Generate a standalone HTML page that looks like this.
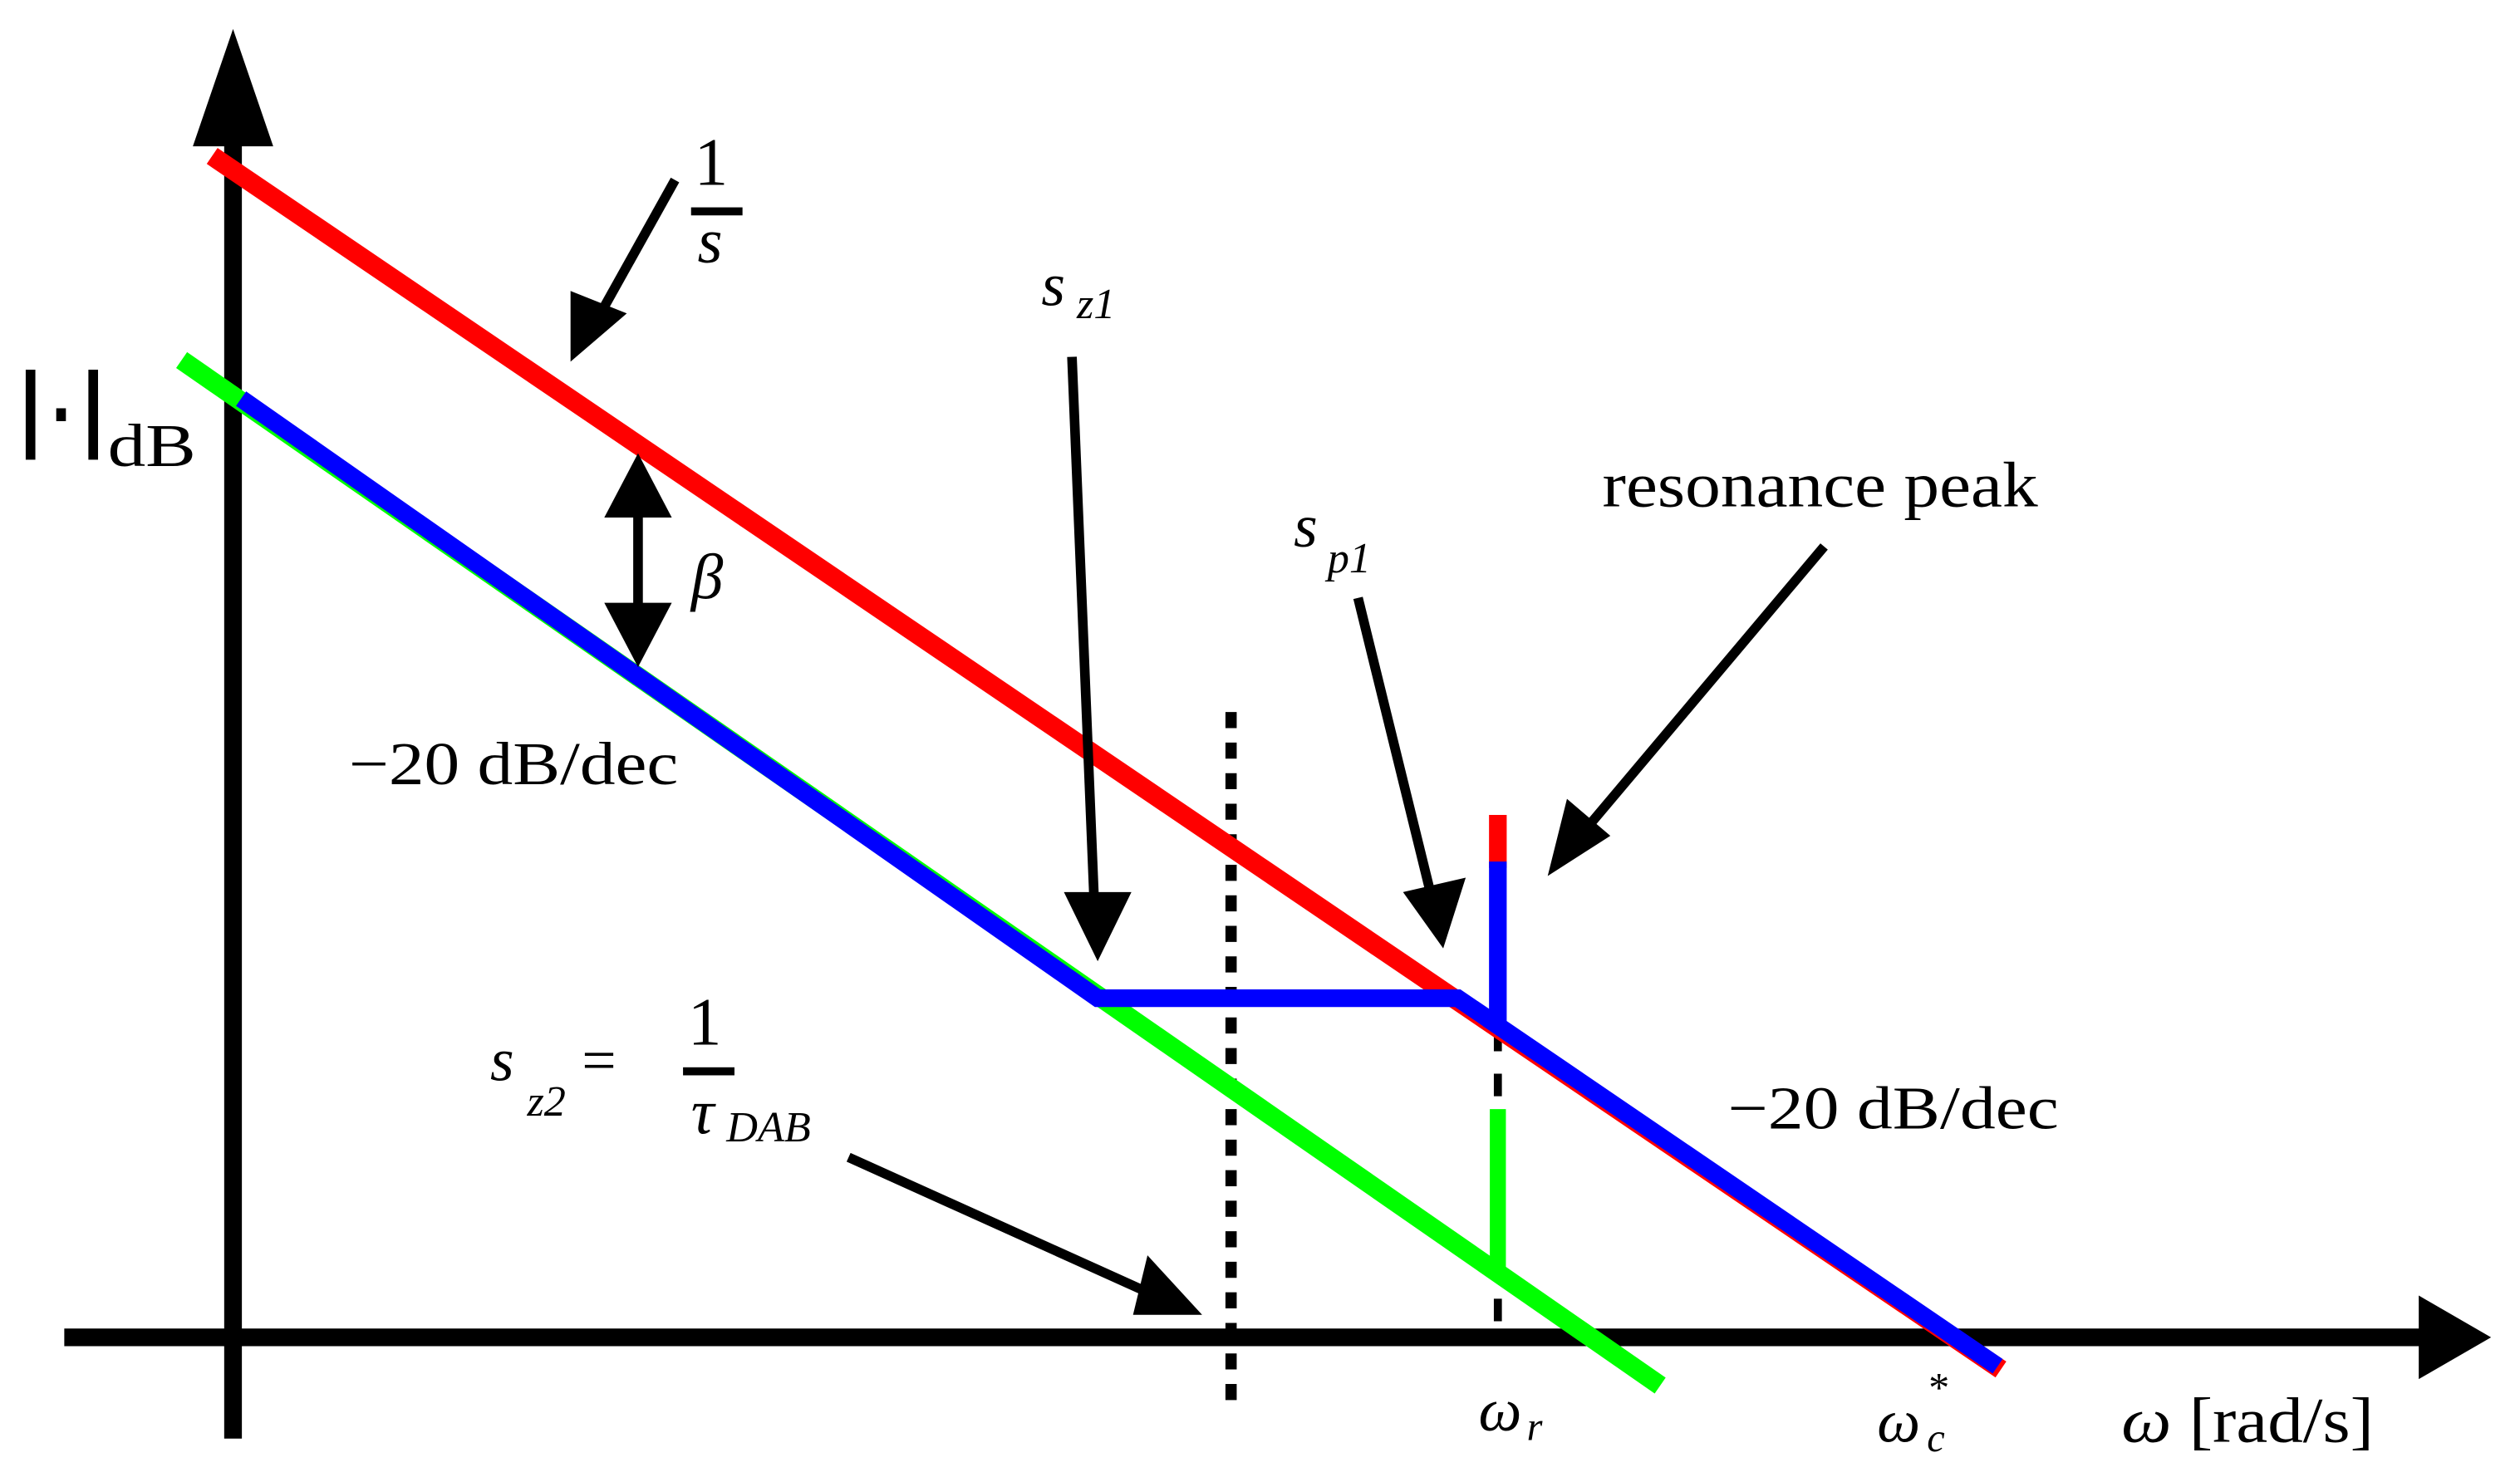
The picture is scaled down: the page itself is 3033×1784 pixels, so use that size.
<!DOCTYPE html>
<html><head><meta charset="utf-8"><style>
html,body{margin:0;padding:0;background:#fff;}
svg{display:block;}
text{font-family:"Liberation Serif",serif;fill:#000;}
</style></head><body>
<svg width="3033" height="1784" viewBox="0 0 1568 922" preserveAspectRatio="none" xmlns="http://www.w3.org/2000/svg">
<line x1="145" y1="80" x2="145" y2="895" stroke="#000" stroke-width="11"/>
<polygon points="145,18 120,91 170,91" fill="#000"/>
<line x1="40" y1="832" x2="1510" y2="832" stroke="#000" stroke-width="11"/>
<polygon points="1550,832 1505,806 1505,858" fill="#000"/>

<line x1="766" y1="443" x2="766" y2="872" stroke="#000" stroke-width="7" stroke-dasharray="10,9"/>
<line x1="932" y1="640" x2="932" y2="832" stroke="#000" stroke-width="5" stroke-dasharray="14,14"/>

<line x1="132" y1="97" x2="1245" y2="852" stroke="#f00" stroke-width="12"/>
<line x1="932" y1="507" x2="932" y2="540" stroke="#f00" stroke-width="11"/>
<line x1="113" y1="224" x2="1033" y2="862" stroke="#0f0" stroke-width="12"/>
<line x1="932" y1="690" x2="932" y2="790" stroke="#0f0" stroke-width="10"/>
<polyline points="150,248 683,621 907,621 932,638" fill="none" stroke="#00f" stroke-width="11"/>
<line x1="932" y1="536" x2="932" y2="640" stroke="#00f" stroke-width="11"/>
<line x1="926" y1="634" x2="1243" y2="850" stroke="#00f" stroke-width="11"/>

<g stroke="#000" stroke-width="6" fill="#000">
<line x1="420" y1="112" x2="372" y2="198"/>
<line x1="397" y1="310" x2="397" y2="390"/>
<line x1="667" y1="222" x2="681" y2="565"/>
<line x1="845" y1="372" x2="890" y2="555"/>
<line x1="1135" y1="340" x2="990" y2="512"/>
<line x1="528" y1="720" x2="712" y2="803"/>
</g>
<g fill="#000">
<polygon points="355,225 355,181 390,195"/>
<polygon points="397,282 376,322 418,322"/>
<polygon points="397,415 376,375 418,375"/>
<polygon points="683,598 662,555 704,555"/>
<polygon points="898,590 873,555 912,546"/>
<polygon points="963,545 975,497 1002,520"/>
<polygon points="748,818 705,818 714,781"/>
</g>

<text x="432" y="115" font-size="42">1</text>
<rect x="430" y="129" width="32" height="5" fill="#000"/>
<text x="434" y="163" font-size="40" font-style="italic">s</text>

<rect x="16" y="230" width="6" height="56" fill="#000"/>
<rect x="35" y="254" width="6" height="8" fill="#000"/>
<rect x="55" y="230" width="6" height="56" fill="#000"/>
<text x="67" y="290" font-size="38" textLength="55" lengthAdjust="spacingAndGlyphs">dB</text>

<text x="430" y="372" font-size="40" font-style="italic">β</text>
<text x="217" y="488" font-size="38" textLength="205" lengthAdjust="spacingAndGlyphs">−20 dB/dec</text>

<text x="648" y="190" font-size="38" font-style="italic">s</text>
<text x="670" y="198" font-size="27" font-style="italic">z1</text>

<text x="805" y="340" font-size="38" font-style="italic">s</text>
<text x="826" y="356" font-size="27" font-style="italic">p1</text>

<text x="997" y="315" font-size="40" textLength="271" lengthAdjust="spacingAndGlyphs">resonance peak</text>

<text x="305" y="672" font-size="38" font-style="italic">s</text>
<text x="328" y="694" font-size="27" font-style="italic">z2</text>
<text x="362" y="672" font-size="38">=</text>
<text x="428" y="650" font-size="42">1</text>
<rect x="425" y="664" width="32" height="5" fill="#000"/>
<text x="430" y="705" font-size="40" font-style="italic">τ</text>
<text x="452" y="710" font-size="27" font-style="italic">DAB</text>

<text x="1075" y="702" font-size="38" textLength="206" lengthAdjust="spacingAndGlyphs">−20 dB/dec</text>

<text x="920" y="890" font-size="38" font-style="italic">ω</text>
<text x="950" y="896" font-size="25" font-style="italic">r</text>
<text x="1168" y="897" font-size="38" font-style="italic">ω</text>
<text x="1199" y="903" font-size="25" font-style="italic">c</text>
<text x="1200" y="872" font-size="26">*</text>
<text x="1320" y="897" font-size="40" textLength="157" lengthAdjust="spacingAndGlyphs"><tspan font-style="italic">ω</tspan> [rad/s]</text>
</svg>
</body></html>
